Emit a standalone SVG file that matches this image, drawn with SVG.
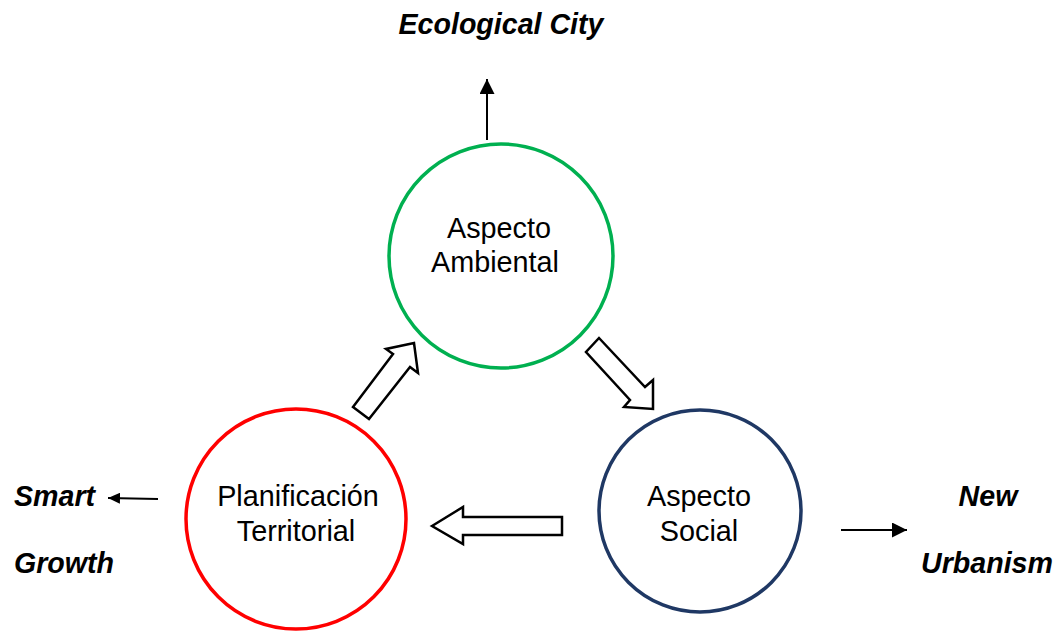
<svg xmlns="http://www.w3.org/2000/svg" width="1063" height="631" viewBox="0 0 1063 631">
<defs>
<style>
.lbl{font-family:"Liberation Sans",Arial,sans-serif;font-size:28.8px;fill:#000;text-anchor:middle}
.em{font-family:"Liberation Sans",Arial,sans-serif;font-size:28.6px;font-weight:bold;font-style:italic;fill:#000}
.blk{fill:#fff;stroke:#000;stroke-width:2.5;stroke-linejoin:miter}
.ln{stroke:#000;stroke-width:2;fill:none}
</style>
<marker id="ah" viewBox="0 0 10 10" refX="10" refY="5" markerWidth="15" markerHeight="15" markerUnits="userSpaceOnUse" orient="auto">
<path d="M0,0 L10,5 L0,10 Z" fill="#000"/>
</marker>
<marker id="ahs" viewBox="0 0 10 10" refX="10" refY="5" markerWidth="12" markerHeight="11" markerUnits="userSpaceOnUse" orient="auto" preserveAspectRatio="none">
<path d="M0,0 L10,5 L0,10 Z" fill="#000"/>
</marker>
</defs>
<rect width="1063" height="631" fill="#fff"/>
<g id="node-ambiental">
<circle cx="501" cy="256" r="112" fill="#fff" stroke="#00b050" stroke-width="3.5"/>
<text class="lbl" x="499" y="238">Aspecto</text>
<text class="lbl" x="495" y="272">Ambiental</text>
</g>
<g id="node-planificacion">
<circle cx="296" cy="519" r="110" fill="#fff" stroke="#ff0000" stroke-width="3.5"/>
<text class="lbl" x="298" y="506">Planificación</text>
<text class="lbl" x="296" y="541">Territorial</text>
</g>
<g id="node-social">
<circle cx="700" cy="511" r="101" fill="#fff" stroke="#1f3864" stroke-width="3.5"/>
<text class="lbl" x="699" y="506">Aspecto</text>
<text class="lbl" x="699" y="541">Social</text>
</g>
<g id="node-ecological">
<text class="em" x="501" y="34" text-anchor="middle">Ecological City</text>
</g>
<g id="node-smart">
<text class="em" x="14" y="506">Smart</text>
<text class="em" x="14" y="573">Growth</text>
</g>
<g id="node-new">
<text class="em" x="988" y="506" text-anchor="middle">New</text>
<text class="em" x="987" y="573" text-anchor="middle">Urbanism</text>
</g>
<g id="connectors">
<polygon class="blk" points="353,407 393,354 386,349 414,343 418,373 410,367 369,419"/>
<polygon class="blk" points="599,338 645,387 653,380 653,409 624,407 630,400 586,352"/>
<polygon class="blk" points="432,526 463,507 463,517 562,517 562,535 463,535 463,544"/>
<line class="ln" x1="487" y1="140" x2="487" y2="79" marker-end="url(#ah)"/>
<line class="ln" x1="158" y1="499" x2="108" y2="498" marker-end="url(#ahs)"/>
<line class="ln" x1="841" y1="530" x2="907" y2="530" marker-end="url(#ah)"/>
</g>
</svg>
